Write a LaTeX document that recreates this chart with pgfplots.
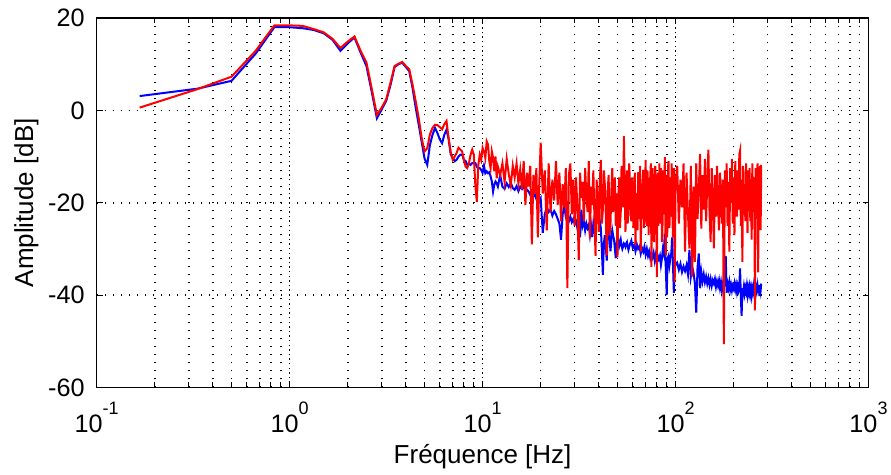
\documentclass[border=0pt]{standalone}
\usepackage{fontspec}
\setmainfont{Liberation Sans}
\usepackage{pgfplots}
\usepackage{pgfplotstable}
\pgfplotsset{compat=1.18}
\newcommand{\tp}[1]{10\raisebox{9pt}{\fontsize{9}{9}\selectfont #1}}
\pgfplotstableread{
f b r
0.167 3.1 0.6
0.333 4.7 4.6
0.5 6.4 7.3
0.667 12.3 12.9
0.833 18.0 18.4
1.0 18.0 18.4
1.167 17.8 18.3
1.333 17.4 17.6
1.5 16.7 16.9
1.667 15.3 15.5
1.833 12.9 13.5
2.0 14.5 14.9
2.167 15.8 16.0
2.333 12.5 12.9
2.5 9.6 10.4
2.667 3.9 4.6
2.833 -1.7 -1.0
3.0 0.2 0.6
3.167 2.1 2.4
3.333 5.5 6.0
3.5 9.4 9.6
3.667 10.0 10.1
3.833 10.3 10.5
4.0 9.4 9.6
4.167 8.5 8.9
4.333 4.9 5.6
4.5 0.6 2.0
4.667 -3.1 -1.7
4.833 -6.8 -6.0
5.0 -10.4 -8.9
5.167 -11.8 -8.2
5.333 -7.5 -5.2
5.5 -5.3 -3.8
5.667 -3.8 -3.1
5.833 -4.9 -3.2
6.0 -6.3 -3.6
6.167 -7.1 -4.1
6.333 -5.3 -3.0
6.5 -4.2 -2.3
6.667 -6.2 -6.0
6.833 -9.5 -9.0
7.0 -10.3 -10.7
7.167 -11.0 -10.0
7.333 -10.7 -9.2
7.5 -10.0 -8.1
7.667 -9.6 -8.5
7.833 -9.6 -8.9
8.0 -10.7 -10.7
8.167 -11.0 -12.2
8.333 -11.8 -12.5
8.5 -11.6 -11.4
8.667 -11.8 -9.6
8.833 -11.4 -8.5
9.0 -11.4 -9.6
9.167 -11.4 -16.1
9.333 -12.2 -19.8
9.5 -12.5 -11.8
9.667 -12.5 -9.6
9.833 -12.9 -10.7
10.0 -13.5 -8.1
10.167 -12.0 -8.9
10.333 -13.6 -10.3
10.5 -13.2 -6.7
10.667 -13.6 -7.4
10.833 -13.4 -11.0
11.0 -14.3 -12.5
11.167 -15.4 -8.9
11.333 -17.6 -10.3
11.5 -16.1 -13.2
11.667 -15.4 -10.0
11.833 -15.8 -14.7
12.0 -16.5 -12.2
12.333 -14.0 -14.0
12.667 -16.5 -11.5
13.0 -17.0 -15.5
13.333 -15.8 -10.5
13.667 -16.6 -13.8
14.0 -15.7 -16.2
14.333 -16.8 -12.0
14.667 -17.2 -14.5
15.0 -16.4 -11.5
15.333 -17.5 -15.8
15.667 -16.5 -12.8
16.0 -17.0 -17.0
16.333 -16.2 -11.0
16.667 -17.8 -20.5
17.0 -17.2 -13.5
17.333 -17.6 -16.5
17.667 -18.3 -12.0
18.0 -17.8 -29.0
18.333 -18.6 -14.0
18.667 -18.2 -18.0
19.0 -19.2 -12.5
19.333 -18.8 -27.5
19.667 -19.5 -16.0
20.0 -19.0 -7.0
20.5 -26.5 -18.0
21.0 -22.5 -13.0
21.5 -21.0 -26.0
22.0 -22.0 -11.5
22.5 -21.5 -22.0
23.0 -22.8 -15.0
23.5 -21.8 -19.5
24.0 -22.5 -11.0
24.5 -23.5 -20.5
25.0 -24.5 -13.5
25.5 -28.0 -24.0
26.0 -22.5 -16.0
26.5 -20.8 -21.0
27.0 -23.0 -12.5
27.5 -22.5 -38.5
28.0 -24.0 -14.0
28.5 -23.0 -11.5
29.0 -24.2 -22.5
29.5 -23.5 -15.0
30.0 -24.5 -25.0
30.5 -24.0 -14.5
31.0 -25.5 -21.0
31.5 -23.5 -32.4
32.0 -27.5 -13.5
32.5 -21.5 -19.0
33.0 -25.0 -15.5
33.5 -24.0 -24.0
34.0 -26.0 -12.5
34.5 -24.5 -18.5
35.0 -25.5 -22.0
35.5 -24.8 -11.0
36.0 -27.0 -27.7
36.5 -25.0 -16.5
37.0 -27.4 -20.5
37.5 -24.5 -13.0
38.0 -26.0 -23.5
38.5 -25.0 -31.5
39.0 -24.0 -15.0
39.5 -22.5 -19.5
40.0 -21.6 -26.3
40.5 -24.0 -15.5
41 -25.5 -10.7
41.5 -30.0 -24.5
42 -35.6 -21.5
42.5 -29.0 -13.0
43 -27.0 -16.0
43.5 -29.5 -22.5
44 -32.5 -31.4
44.5 -27.0 -17.5
45 -24.5 -14.0
45.5 -27.5 -27.0
46 -30.5 -24.5
46.5 -28.0 -17.5
47 -26.0 -12.5
47.5 -27.2 -22.0
48 -28.0 -19.0
48.5 -30.0 -14.5
49 -32.0 -25.0
49.5 -29.0 -18.0
50 -27.0 -31.8
50.5 -28.0 -19.5
51 -29.5 -14.5
51.5 -28.8 -25.5
52 -28.0 -22.0
52.5 -29.2 -12.0
53 -30.0 -17.0
53.5 -29.5 -21.0
54 -28.8 -5.6
54.5 -29.0 -16.5
55 -29.5 -26.3
55.5 -28.8 -20.0
56 -28.5 -13.0
56.5 -29.5 -24.5
57 -30.2 -20.5
57.5 -29.6 -11.5
58 -29.0 -15.5
58.5 -28.6 -22.5
59 -28.2 -24.0
59.5 -29.0 -14.5
60 -29.8 -16.9
60.5 -29.5 -25.5
61 -29.2 -21.5
61.5 -29.8 -13.5
62 -30.5 -29.2
62.5 -29.8 -21.0
63 -29.0 -18.0
63.5 -29.5 -26.0
64 -30.0 -13.4
64.5 -29.8 -17.0
65 -29.5 -23.5
65.5 -30.2 -12.0
66 -31.0 -30.6
66.5 -30.4 -22.0
67 -29.8 -17.5
67.5 -30.2 -15.5
68 -30.6 -12.9
68.5 -30.0 -25.5
69 -29.5 -22.0
69.5 -30.4 -17.0
70 -31.2 -10.7
70.5 -30.6 -23.5
71 -30.0 -25.0
71.5 -30.8 -13.0
72 -31.5 -16.0
72.5 -31.0 -27.0
73 -30.5 -20.5
73.5 -31.2 -18.0
74 -32.0 -14.0
74.5 -31.5 -11.5
75 -31.0 -33.9
75.5 -31.4 -24.0
76 -31.8 -12.5
76.5 -31.3 -16.0
77 -30.8 -21.0
77.5 -31.6 -28.5
78 -32.5 -16.5
78.5 -31.8 -12.0
79 -31.2 -26.0
79.5 -32.0 -20.5
80 -33.0 -36.1
80.5 -32.2 -15.0
81 -31.5 -13.5
81.5 -31.8 -25.0
82 -32.2 -19.5
82.5 -31.9 -11.5
83 -31.5 -24.5
83.5 -32.5 -21.0
84 -33.5 -12.5
84.5 -32.8 -16.0
85 -32.0 -28.5
85.5 -31.0 -26.5
86 -30.0 -17.0
86.5 -30.5 -13.0
87 -31.0 -22.5
87.5 -28.5 -19.5
88 -26.7 -10.1
88.5 -30.5 -24.0
89 -34.0 -31.4
89.5 -37.0 -14.0
90 -40.0 -15.5
90.5 -36.0 -27.5
91 -32.0 -20.0
91.5 -31.8 -12.0
92 -31.5 -11.0
92.5 -32.5 -22.5
93 -33.5 -25.5
93.5 -32.8 -16.5
94 -32.0 -14.5
94.5 -31.5 -20.0
95 -31.0 -23.0
95.5 -29.5 -11.5
96 -27.5 -18.0
96.5 -30.5 -24.0
97 -33.5 -27.5
97.5 -36.5 -15.0
98 -39.5 -12.5
98.5 -35.8 -21.5
99 -32.0 -37.2
99.5 -32.8 -26.5
100 -33.5 -16.0
102 -33.0 -12.0
104 -34.5 -24.5
106 -33.2 -15.0
108 -35.0 -21.0
110 -33.8 -11.5
112 -34.8 -30.6
114 -33.5 -13.5
116 -35.5 -22.5
118 -30.2 -29.9
120 -36.0 -12.0
122 -34.0 -36.0
124 -35.2 -16.5
126 -37.5 -32.8
128 -43.8 -11.5
130 -34.0 -23.5
132 -31.0 -17.0
134 -38.5 -9.4
136 -35.0 -25.6
138 -37.0 -14.0
140 -35.5 -21.5
142 -37.2 -10.5
144 -36.0 -24.0
146 -37.5 -15.5
148 -36.3 -8.5
150 -37.8 -22.0
152 -36.5 -28.5
154 -38.0 -12.5
156 -36.8 -19.5
158 -37.5 -29.9
160 -36.5 -14.0
162 -38.2 -23.0
164 -37.0 -12.0
166 -38.0 -20.5
168 -36.8 -26.0
170 -38.5 -13.5
172 -37.2 -18.5
174 -39.0 -24.5
176 -37.5 -15.0
178 -38.2 -50.6
180 -37.0 -13.0
182 -31.5 -21.0
184 -39.5 -11.5
186 -37.5 -25.0
188 -38.5 -15.5
190 -37.2 -30.6
192 -38.8 -12.5
194 -37.8 -20.0
196 -39.0 -10.5
198 -38.0 -24.5
200 -38.6 -14.5
202 -37.5 -27.0
204 -38.8 -11.0
206 -37.8 -19.0
208 -39.2 -23.0
210 -38.0 -13.0
212 -39.0 -21.5
214 -38.2 -9.5
216 -34.2 -8.7
218 -40.5 -25.0
220 -44.5 -15.0
222 -38.5 -32.8
224 -39.5 -12.0
226 -38.2 -20.0
228 -39.6 -16.5
230 -38.4 -24.0
232 -39.2 -11.5
234 -38.0 -19.5
236 -39.8 -26.5
238 -38.5 -13.0
240 -39.5 -21.0
242 -38.3 -12.5
244 -39.7 -24.0
246 -38.6 -16.0
248 -40.0 -28.0
250 -38.6 -11.5
252 -39.4 -22.0
254 -38.2 -14.5
256 -39.8 -19.0
258 -38.5 -43.3
260 -39.6 -12.5
262 -38.3 -23.5
264 -39.0 -17.0
266 -38.0 -11.5
268 -39.5 -35.1
270 -37.8 -14.0
272 -40.2 -21.0
274 -38.0 -12.0
276 -39.0 -25.9
278 -37.5 -11.8
}\data
\begin{document}
\begin{tikzpicture}
\useasboundingbox (-48.35pt,-43.75pt) rectangle (397.15pt,193.75pt);
\begin{axis}[
  at={(0,0)}, anchor=south west,
  scale only axis, width=385.9pt, height=184.75pt,
  xmode=log, xmin=0.1, xmax=1000, ymin=-60, ymax=20,
  xtick={0.1,1,10,100,1000},
  xticklabels={\tp{-1},\tp{0},\tp{1},\tp{2},\tp{3}},
  minor xtick={0.2,0.3,0.4,0.5,0.6,0.7,0.8,0.9,2,3,4,5,6,7,8,9,20,30,40,50,60,70,80,90,200,300,400,500,600,700,800,900},
  ytick={-60,-40,-20,0,20},
  yticklabels={-60,-40,-20,0,20},
  tick align=inside,
  major tick length=3pt, minor tick length=2.5pt,
  every tick/.style={black, line width=0.5pt},
  axis line style={black, line width=0.7pt},
  xmajorgrids, xminorgrids, ymajorgrids,
  major grid style={black, line width=0.8pt, dash pattern=on 0.7pt off 3.3pt},
  minor grid style={black, line width=0.8pt, dash pattern=on 0.7pt off 3.3pt},
  major x grid style={black, line width=0.8pt, dash pattern=on 0.7pt off 1.6pt},
  tick label style={font=\fontsize{12.6}{14}\selectfont},
  yticklabel style={xshift=-2.5pt},
  xticklabel style={yshift=-3.9pt},
  label style={font=\fontsize{13}{15}\selectfont},
  xlabel={Fréquence [Hz]},
  ylabel={Amplitude [dB]},
  xlabel style={at={(axis description cs:0.5,-0.205)}, anchor=base},
  ylabel style={at={(axis description cs:-0.0825,0.5)}, anchor=base},
]
\addplot[blue, line width=1pt, no markers] table[x=f, y=b] {\data};
\addplot[red, line width=1pt, no markers] table[x=f, y=r] {\data};
\end{axis}
\end{tikzpicture}
\end{document}
